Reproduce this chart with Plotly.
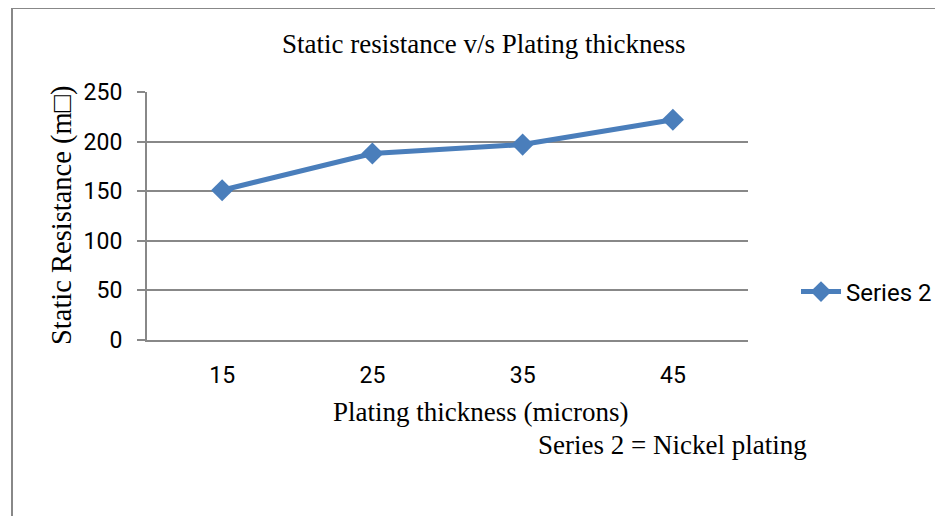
import plotly.graph_objects as go

categories = ["15", "25", "35", "45"]
series2 = [151, 188, 197, 222]
y_ticks = [0, 50, 100, 150, 200, 250]

OFF = 8  # page body margin
W, H = 943 - OFF, 516 - OFF
# plot area in page pixels
PL, PR, PT, PB = 147, 748, 92, 340
L, R, T, B = PL - OFF, PR - OFF, PT - OFF, PB - OFF

def px(x):
    return (x - PL) / (PR - PL)

def py(y):
    return (PB - y) / (PB - PT)

SERIF = "Liberation Serif"
SANS = "Roboto"

fig = go.Figure()
fig.add_trace(go.Scatter(
    x=categories, y=series2, mode="lines+markers", name="Series 2",
    line=dict(color="#4A7EBB", width=5),
    marker=dict(symbol="diamond", size=17, color="#4A7EBB"),
))

def note(text, x, y, angle=0, size=27):
    return dict(text=text, xref="paper", yref="paper", x=px(x), y=py(y),
                xanchor="center", yanchor="middle", showarrow=False,
                textangle=angle, font=dict(family=SERIF, size=size, color="#000"))

fig.update_layout(
    width=W, height=H,
    margin=dict(l=L, r=W - R, t=T, b=H - B, autoexpand=False),
    paper_bgcolor="white", plot_bgcolor="white",
    showlegend=True,
    legend=dict(x=px(796), y=py(292), xanchor="left", yanchor="middle",
                font=dict(family=SANS, size=24, color="#000"),
                itemwidth=40, bgcolor="rgba(0,0,0,0)"),
    xaxis=dict(type="category", range=[-0.5, 3.5], showgrid=False,
               showline=True, linecolor="#888", linewidth=2,
               ticks="", tickfont=dict(family=SANS, size=23, color="#000"),
               ticklabelstandoff=13, fixedrange=True),
    yaxis=dict(range=[0, 250], tickvals=y_ticks, showgrid=True,
               gridcolor="#888", gridwidth=2, zeroline=False,
               showline=True, linecolor="#888", linewidth=2,
               ticks="outside", ticklen=8, tickcolor="#888", tickwidth=2,
               tickfont=dict(family=SANS, size=23, color="#000"),
               ticklabelstandoff=10, fixedrange=True),
    annotations=[
        note("Static resistance v/s Plating thickness", 484, 44),
        note("Static Resistance (m\u25a1)", 62, 215, -90, 28.5),
        note("Plating thickness (microns)", 481, 412),
        note("Series 2 = Nickel plating", 672, 445),
    ],
    shapes=[
        dict(type="line", xref="paper", yref="paper", x0=px(12), x1=px(950),
             y0=py(8), y1=py(8), line=dict(color="#888", width=2)),
        dict(type="line", xref="paper", yref="paper", x0=px(12), x1=px(12),
             y0=py(8), y1=py(520), line=dict(color="#888", width=2)),
    ],
)

fig.write_html("out.html")
